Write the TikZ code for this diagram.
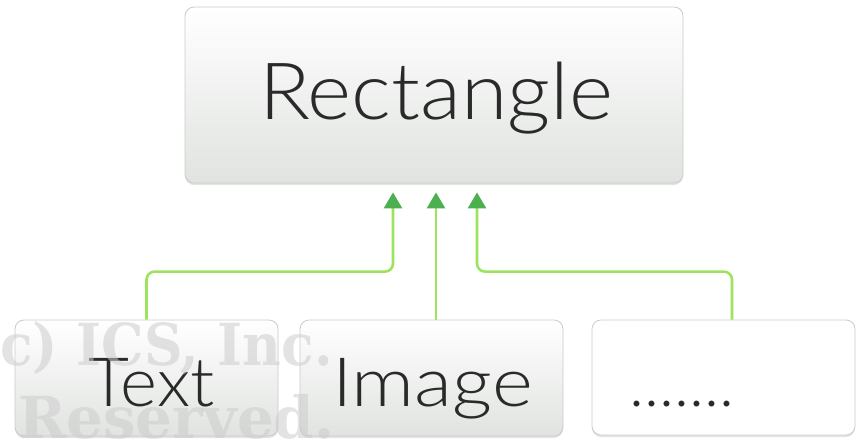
\documentclass[tikz,border=0pt]{standalone}
\usepackage{fontspec}
\newfontfamily\latolight{Lato Light}
\newfontfamily\wmfont{DejaVu Serif}
\usetikzlibrary{arrows.meta,shadows}
\definecolor{linegreen}{HTML}{9DE35E}
\definecolor{tipgreen}{HTML}{4CAF50}
\definecolor{boxline}{HTML}{C9CCC9}
\definecolor{boxbot}{HTML}{E0E3E0}
\definecolor{txt}{HTML}{2A2A2A}
\tikzset{
  box/.style={draw=boxline, line width=0.8pt, rounded corners=9pt, inner sep=0pt,
    top color=white, bottom color=boxbot,
    drop shadow={shadow xshift=0pt, shadow yshift=-2pt, opacity=0.22}},
  plainbox/.style={draw=boxline, line width=0.8pt, rounded corners=9pt, inner sep=0pt,
    fill=white, drop shadow={shadow xshift=0pt, shadow yshift=-2pt, opacity=0.22}},
  lab/.style={anchor=base, inner sep=0pt, text=txt, font=\latolight},
  conn/.style={draw=linegreen, line width=2.6pt, rounded corners=8pt,
    -{Triangle[width=18pt,length=16pt,color=tipgreen]}, shorten >=9pt},
  wm/.style={anchor=base west, inner sep=0pt, text=gray!40, opacity=0.55, font=\wmfont\bfseries\fontsize{58}{58}\selectfont}
}
\begin{document}
\begin{tikzpicture}[x=1pt,y=-1pt]
\useasboundingbox (0,0) rectangle (859,440);
% boxes
\node[box, minimum width=498pt, minimum height=176pt] (r) at (434,95) {};
\node[box, minimum width=263pt, minimum height=116pt] (t) at (146.5,378) {};
\node[box, minimum width=263pt, minimum height=116pt] (i) at (431.5,378) {};
\node[plainbox, minimum width=263pt, minimum height=115pt] (d) at (723.5,377.5) {};
% labels
\node[lab, font=\latolight\fontsize{79}{79}\selectfont, xscale=1.067] (rl) at (436,119) {Rectangle};
\node[lab, font=\latolight\fontsize{68}{68}\selectfont, xscale=1.04] (tl) at (151.5,406) {Text};
\node[lab, font=\latolight\fontsize{68}{68}\selectfont, xscale=1.15] (il) at (432.5,406) {Image};
\node[lab, font=\latolight\fontsize{64}{64}\selectfont] (dl) at (682,406) {.......};
% connectors
\draw[conn] (t.north) -- ++(0,-48) -| ([xshift=-41pt]r.south);
\draw[conn] ([xshift=4.5pt]i.north) -- ([xshift=2pt]r.south);
\draw[conn] ([xshift=8.5pt]d.north) -- ++(0,-48) -| ([xshift=43pt]r.south);
% watermark
\node[wm, xscale=0.92] (w1) at (-25,365) {(c) ICS, Inc.};
\node[wm] (w2) at (18,438) {Reserved.};
\end{tikzpicture}
\end{document}
